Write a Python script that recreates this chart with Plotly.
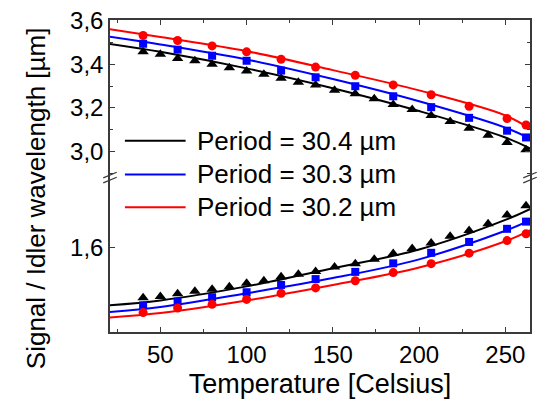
import plotly.graph_objects as go

# ---------------- data ----------------
T_fine = [40, 50, 60, 70, 80, 90, 100, 110, 120, 130, 140,
          151, 163, 174, 185, 196, 207, 218, 229, 240, 251, 262]
T_coarse = [40, 60, 80, 100, 120, 140, 163, 185, 207, 229, 251, 262]
T_fit = [20, 50, 100, 150, 200, 250, 265]

idler_304 = [3.457, 3.446, 3.426, 3.416, 3.400, 3.384, 3.369, 3.354, 3.336, 3.317, 3.305,
             3.280, 3.264, 3.242, 3.215, 3.192, 3.165, 3.137, 3.106, 3.074, 3.041, 3.008]
signal_304 = [1.5403, 1.5419, 1.5450, 1.5480, 1.5504, 1.5535, 1.5574, 1.5605, 1.5651, 1.5682, 1.5713,
              1.5767, 1.5806, 1.5857, 1.5927, 1.5985, 1.6050, 1.6128, 1.6198, 1.6276, 1.6380, 1.6488]
idler_303 = [3.494, 3.467, 3.439, 3.416, 3.371, 3.340, 3.299, 3.253, 3.203, 3.154, 3.095, 3.064]
signal_303 = [1.5314, 1.5360, 1.5410, 1.5469, 1.5555, 1.5624, 1.5709, 1.5810, 1.5934, 1.6062, 1.6217, 1.6302]
idler_302 = [3.532, 3.509, 3.484, 3.457, 3.423, 3.387, 3.349, 3.305, 3.260, 3.207, 3.151, 3.121]
signal_302 = [1.5229, 1.5283, 1.5326, 1.5384, 1.5457, 1.5520, 1.5605, 1.5701, 1.5806, 1.5930, 1.6078, 1.6159]

fit_idler_304 = [3.494, 3.457, 3.381, 3.290, 3.185, 3.064, 3.011]
fit_idler_303 = [3.527, 3.491, 3.422, 3.332, 3.230, 3.109, 3.056]
fit_idler_302 = [3.562, 3.525, 3.460, 3.373, 3.280, 3.165, 3.101]
fit_signal_304 = [1.5314, 1.5372, 1.5538, 1.5752, 1.5973, 1.6322, 1.6457]
fit_signal_303 = [1.5236, 1.5295, 1.5457, 1.5636, 1.5857, 1.6194, 1.6322]
fit_signal_302 = [1.5171, 1.5225, 1.5372, 1.5555, 1.5760, 1.6070, 1.6206]

labels = ["Period = 30.4 µm", "Period = 30.3 µm", "Period = 30.2 µm"]
colors = ["#000000", "#0000ff", "#ff0000"]
symbols = ["triangle-up", "square", "circle"]
msizes = [10, 8, 9]

series = [
    (T_fine, idler_304, signal_304, fit_idler_304, fit_signal_304),
    (T_coarse, idler_303, signal_303, fit_idler_303, fit_signal_303),
    (T_coarse, idler_302, signal_302, fit_idler_302, fit_signal_302),
]

FONT = "Liberation Sans, Arial, sans-serif"
AX = "#3a3a3a"

fig = go.Figure()
for (tm, idl, sig, fi, fs), c, s, ms in zip(series, colors, symbols, msizes):
    for yv, fv, ya in ((idl, fi, "y"), (sig, fs, "y2")):
        fig.add_trace(go.Scatter(x=T_fit, y=fv, mode="lines", xaxis="x", yaxis=ya,
                                 line=dict(color=c, width=2, shape="spline"),
                                 showlegend=False, hoverinfo="skip"))
        fig.add_trace(go.Scatter(x=tm, y=yv, mode="markers", xaxis="x", yaxis=ya,
                                 marker=dict(color=c, symbol=s, size=ms, line=dict(width=0)),
                                 showlegend=False))

xr = [20.8, 264.3]
common_y = dict(showline=True, linecolor=AX, linewidth=1.5, mirror="ticks",
                ticks="inside", ticklen=5, tickcolor=AX, tickwidth=1.3,
                showgrid=False, zeroline=False,
                tickfont=dict(family=FONT, size=24, color="black"))

fig.update_layout(
    width=539, height=408,
    margin=dict(l=110, r=7, t=16, b=76),
    paper_bgcolor="white", plot_bgcolor="white",
    separators=",.",
    showlegend=False,
    xaxis=dict(range=xr, anchor="y2", showline=True, linecolor=AX, linewidth=1.5,
               ticks="inside", ticklen=5, tickcolor=AX, tickwidth=1.3,
               tick0=0, dtick=50, showgrid=False, zeroline=False,
               minor=dict(dtick=25, ticks="inside", ticklen=3, tickcolor=AX),
               tickfont=dict(family=FONT, size=24, color="black"),
               title=dict(text="Temperature [Celsius]", standoff=8,
                          font=dict(family=FONT, size=27, color="black"))),
    xaxis2=dict(range=xr, anchor="y", side="top", overlaying="x", showline=True,
                linecolor=AX, linewidth=1.5, ticks="inside", ticklen=5, tickcolor=AX,
                tickwidth=1.3, tick0=0, dtick=50, showticklabels=False,
                showgrid=False, zeroline=False,
                minor=dict(dtick=25, ticks="inside", ticklen=3, tickcolor=AX)),
    yaxis=dict(domain=[0.5, 1], range=[2.887, 3.603], tick0=3.0, dtick=0.2,
               tickformat=".1f",
               minor=dict(dtick=0.1, ticks="inside", ticklen=3, tickcolor=AX),
               **common_y),
    yaxis2=dict(domain=[0, 0.5], range=[1.5, 1.684], tickmode="array",
                tickvals=[1.6], tickformat=".1f", **common_y),
)

# dummy trace so xaxis2 is drawn
fig.add_trace(go.Scatter(x=[None], y=[None], xaxis="x2", yaxis="y", showlegend=False))

# y-axis title
fig.add_annotation(text="Signal / Idler wavelength [µm]", textangle=-90,
                   xref="paper", yref="paper", x=-0.215, y=0.428,
                   showarrow=False, font=dict(family=FONT, size=26, color="black"))

# legend (drawn manually to match long line samples)
leg_y = [0.613, 0.505, 0.400]
for lab, c, yy in zip(labels, colors, leg_y):
    fig.add_shape(type="line", xref="paper", yref="paper", x0=0.0355, x1=0.180,
                  y0=yy, y1=yy, line=dict(color=c, width=2))
    fig.add_annotation(text=lab, xref="paper", yref="paper", x=0.2014, y=yy,
                       xanchor="left", yanchor="middle", showarrow=False,
                       font=dict(family=FONT, size=26, color="black"))

# axis break marks
for xc in (0.0, 1.0):
    for dy in (0.0, -0.016):
        fig.add_shape(type="line", xref="paper", yref="paper",
                      x0=xc - 0.016, x1=xc + 0.016,
                      y0=0.5 + dy - 0.006, y1=0.5 + dy + 0.012,
                      line=dict(color=AX, width=1.3))

fig.write_html("out.html")
